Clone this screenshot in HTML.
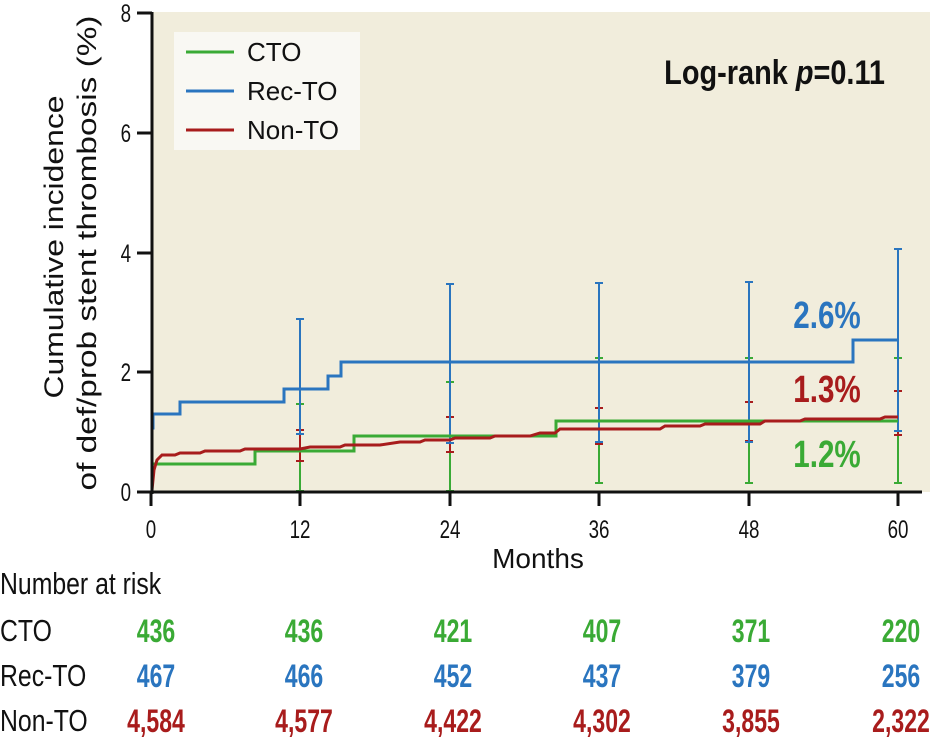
<!DOCTYPE html>
<html><head><meta charset="utf-8"><style>
html,body{margin:0;padding:0;background:#fff;}
svg{display:block;}
text{font-family:"Liberation Sans",sans-serif;}
</style></head><body>
<svg width="930" height="741" viewBox="0 0 930 741" xmlns="http://www.w3.org/2000/svg">
<rect x="152" y="12" width="778" height="480" fill="#f1eddc"/>
<rect x="174" y="32" width="186" height="118" fill="#f9f8f3"/>
<line x1="186" y1="52" x2="234" y2="52" stroke="#3aaa35" stroke-width="3"/>
<line x1="186" y1="91" x2="234" y2="91" stroke="#2a75bf" stroke-width="3"/>
<line x1="186" y1="130" x2="234" y2="130" stroke="#a81c1c" stroke-width="3"/>
<g font-size="26" fill="#111">
<text x="247" y="61">CTO</text><text x="247" y="100">Rec-TO</text><text x="247" y="139">Non-TO</text>
</g>
<text transform="translate(885,84) scale(0.85,1)" text-anchor="end" font-size="34" font-weight="bold" fill="#111">Log-rank <tspan font-style="italic">p</tspan>=0.11</text>

<g stroke-width="2" fill="none">
<g stroke="#3aaa35">
<path d="M300 404V491M296 404h8M296 491h8"/>
<path d="M450 382V491M446 382h8M446 491h8"/>
<path d="M599 358V483M595 358h8M595 483h8"/>
<path d="M749 358V483M745 358h8M745 483h8"/>
<path d="M898 358V483M894 358h8M894 483h8"/>
</g>
<g stroke="#a81c1c">
<path d="M300 430V461M296 430h8M296 461h8"/>
<path d="M450 417V452M446 417h8M446 452h8"/>
<path d="M599 408V444M595 408h8M595 444h8"/>
<path d="M749 402V441M745 402h8M745 441h8"/>
<path d="M898 391V435M894 391h8M894 435h8"/>
</g>
<g stroke="#2a75bf">
<path d="M300 319V434M296 319h8M296 434h8"/>
<path d="M450 284V443M446 284h8M446 443h8"/>
<path d="M599 283V442M595 283h8M595 442h8"/>
<path d="M749 282V442M745 282h8M745 442h8"/>
<path d="M898 249V431M894 249h8M894 431h8"/>
</g>
</g>
<g fill="none" stroke-width="3">
<path stroke="#3aaa35" d="M152 492V464H255V451H354V436H556V421H898"/>
<path stroke="#2a75bf" d="M152 492V428H153V414H180V402H284V389H328V376H341V362H853V340H898"/>
<path stroke="#a81c1c" d="M152 490L154 470L157 460L162 455H175L180 453H200L205 451H240L245 449H300L310 447H340L345 445H380L400 442H420L425 440H450L455 438H490L495 436H530L540 433H555L560 429H660L665 426H700L705 424H760L765 421H800L805 419H880L885 417H898"/>
</g>
<g stroke="#111" stroke-width="3">
<line x1="152" y1="12" x2="152" y2="494"/>
<line x1="150" y1="492" x2="922" y2="492"/>
<path d="M137 13H152M137 133H152M137 253H152M137 372H152M137 492H152"/>
<path d="M151 492V506M300 492V506M450 492V506M599 492V506M749 492V506M898 492V506"/>
</g>
<g font-size="25" fill="#111" text-anchor="end">
<text transform="translate(131,22) scale(0.75,1)">8</text>
<text transform="translate(131,142) scale(0.75,1)">6</text>
<text transform="translate(131,262) scale(0.75,1)">4</text>
<text transform="translate(131,381) scale(0.75,1)">2</text>
<text transform="translate(131,501) scale(0.75,1)">0</text>
</g>
<g font-size="25" fill="#111" text-anchor="middle">
<text transform="translate(151,538) scale(0.75,1)">0</text>
<text transform="translate(300,538) scale(0.75,1)">12</text>
<text transform="translate(450,538) scale(0.75,1)">24</text>
<text transform="translate(599,538) scale(0.75,1)">36</text>
<text transform="translate(749,538) scale(0.75,1)">48</text>
<text transform="translate(898,538) scale(0.75,1)">60</text>
</g>
<text x="538" y="568" text-anchor="middle" font-size="28" fill="#111">Months</text>
<g font-size="27" fill="#111" text-anchor="middle">
<text transform="translate(63,247) rotate(-90)" textLength="303" lengthAdjust="spacingAndGlyphs">Cumulative incidence</text>
<text transform="translate(96,253) rotate(-90)" textLength="475" lengthAdjust="spacingAndGlyphs">of def/prob stent thrombosis (%)</text>
</g>
<g font-size="38" font-weight="bold" text-anchor="middle">
<text transform="translate(827,328) scale(0.78,1)" fill="#2a75bf">2.6%</text>
<text transform="translate(827,402) scale(0.78,1)" fill="#a81c1c">1.3%</text>
<text transform="translate(827,467) scale(0.78,1)" fill="#3aaa35">1.2%</text>
</g>
<g font-size="31" fill="#111">
<text transform="translate(0,594) scale(0.8,1)">Number at risk</text>
<text transform="translate(0,641) scale(0.8,1)">CTO</text>
<text transform="translate(0,686) scale(0.8,1)">Rec-TO</text>
<text transform="translate(0,731) scale(0.8,1)">Non-TO</text>
</g>
<g font-size="32" font-weight="bold" text-anchor="middle">
<g fill="#3aaa35">
<text transform="translate(156,642) scale(0.72,1)">436</text><text transform="translate(304,642) scale(0.72,1)">436</text><text transform="translate(453,642) scale(0.72,1)">421</text><text transform="translate(602,642) scale(0.72,1)">407</text><text transform="translate(751,642) scale(0.72,1)">371</text><text transform="translate(901,642) scale(0.72,1)">220</text></g>
<g fill="#2a75bf">
<text transform="translate(156,687) scale(0.72,1)">467</text><text transform="translate(304,687) scale(0.72,1)">466</text><text transform="translate(453,687) scale(0.72,1)">452</text><text transform="translate(602,687) scale(0.72,1)">437</text><text transform="translate(751,687) scale(0.72,1)">379</text><text transform="translate(901,687) scale(0.72,1)">256</text></g>
<g fill="#a81c1c">
<text transform="translate(156,732) scale(0.72,1)">4,584</text><text transform="translate(304,732) scale(0.72,1)">4,577</text><text transform="translate(453,732) scale(0.72,1)">4,422</text><text transform="translate(602,732) scale(0.72,1)">4,302</text><text transform="translate(751,732) scale(0.72,1)">3,855</text><text transform="translate(901,732) scale(0.72,1)">2,322</text></g>
</g>
</svg>
</body></html>
